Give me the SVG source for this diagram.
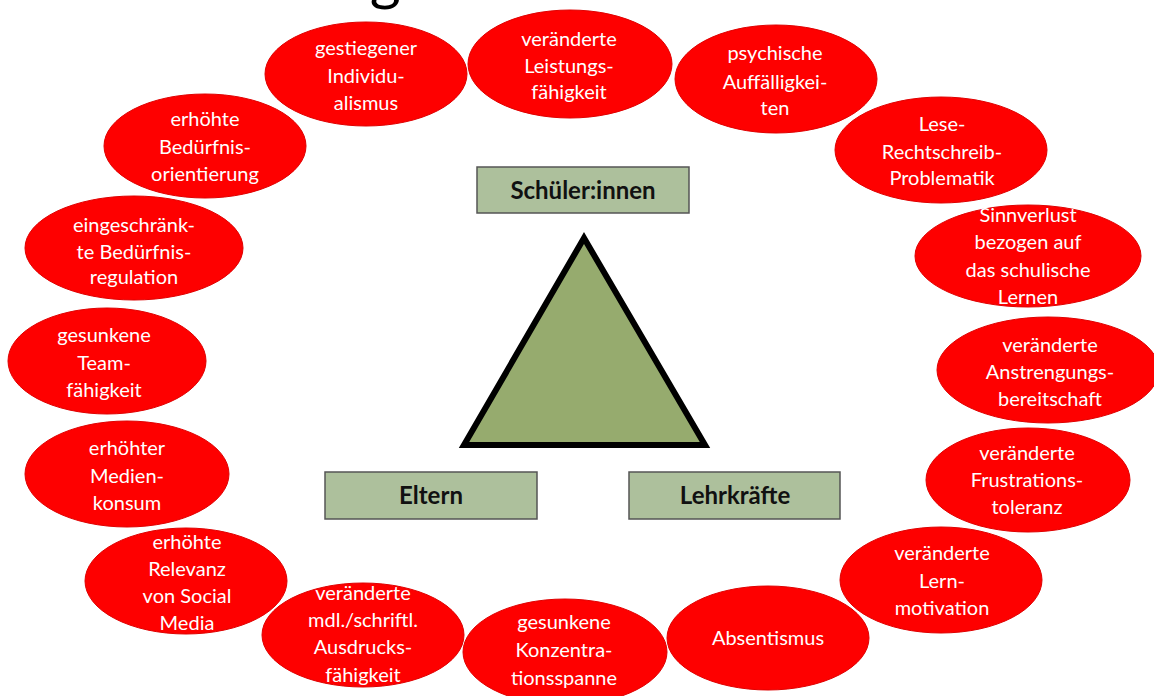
<svg xmlns="http://www.w3.org/2000/svg" width="1154" height="696" viewBox="0 0 1154 696">
<style>
.e{fill:#fe0000;stroke:#e00000;stroke-width:1}
.t{font-family:Lato,"Liberation Sans",sans-serif;font-size:20px;fill:#ffffff;text-anchor:middle}
.b{fill:#adc09c;stroke:#555555;stroke-width:1.5}
.bt{font-family:Lato,"Liberation Sans",sans-serif;font-size:24px;font-weight:bold;fill:#111111;text-anchor:middle}
</style>
<rect width="1154" height="696" fill="#ffffff"/>
<text x="65" y="-1" font-family="Lato,'Liberation Sans',sans-serif" font-size="58" fill="#000" textLength="400" lengthAdjust="spacingAndGlyphs">Veränderungen</text>
<g id="n-sinnverlust"><ellipse class="e" cx="1028" cy="256" rx="113" ry="51"/><text class="t"><tspan x="1028" y="222">Sinnverlust</tspan><tspan x="1028" y="249">bezogen auf</tspan><tspan x="1028" y="277">das schulische</tspan><tspan x="1028" y="304">Lernen</tspan></text></g>
<g id="n-gestiegener"><ellipse class="e" cx="366" cy="74" rx="101" ry="52"/><text class="t"><tspan x="366" y="55">gestiegener</tspan><tspan x="366" y="83">Individu-</tspan><tspan x="366" y="110">alismus</tspan></text></g>
<g id="n-leistung"><ellipse class="e" cx="570" cy="64" rx="102" ry="54"/><text class="t"><tspan x="569" y="46">veränderte</tspan><tspan x="569" y="73">Leistungs-</tspan><tspan x="569" y="99">fähigkeit</tspan></text></g>
<g id="n-psychische"><ellipse class="e" cx="776" cy="79" rx="101" ry="54"/><text class="t"><tspan x="775" y="60">psychische</tspan><tspan x="775" y="89">Auffälligkei-</tspan><tspan x="775" y="115">ten</tspan></text></g>
<g id="n-lese"><ellipse class="e" cx="941" cy="150" rx="106" ry="53"/><text class="t"><tspan x="942" y="131">Lese-</tspan><tspan x="942" y="159">Rechtschreib-</tspan><tspan x="942" y="185">Problematik</tspan></text></g>
<g id="n-anstrengung"><ellipse class="e" cx="1048" cy="370" rx="111" ry="53"/><text class="t"><tspan x="1050" y="352">veränderte</tspan><tspan x="1050" y="379">Anstrengungs-</tspan><tspan x="1050" y="406">bereitschaft</tspan></text></g>
<g id="n-frustration"><ellipse class="e" cx="1028" cy="480" rx="102" ry="52"/><text class="t"><tspan x="1027" y="460">veränderte</tspan><tspan x="1027" y="487">Frustrations-</tspan><tspan x="1027" y="514">toleranz</tspan></text></g>
<g id="n-lernmotivation"><ellipse class="e" cx="941" cy="580" rx="101" ry="53"/><text class="t"><tspan x="942" y="560">veränderte</tspan><tspan x="942" y="588">Lern-</tspan><tspan x="942" y="615">motivation</tspan></text></g>
<g id="n-absentismus"><ellipse class="e" cx="768" cy="638" rx="101" ry="52"/><text class="t"><tspan x="768" y="645">Absentismus</tspan></text></g>
<g id="n-konzentration"><ellipse class="e" cx="565" cy="652" rx="102" ry="53"/><text class="t"><tspan x="564" y="629">gesunkene</tspan><tspan x="564" y="657">Konzentra-</tspan><tspan x="564" y="685">tionsspanne</tspan></text></g>
<g id="n-ausdruck"><ellipse class="e" cx="363" cy="635" rx="101" ry="52"/><text class="t"><tspan x="363" y="600">veränderte</tspan><tspan x="363" y="627">mdl./schriftl.</tspan><tspan x="363" y="654">Ausdrucks-</tspan><tspan x="363" y="682">fähigkeit</tspan></text></g>
<g id="n-socialmedia"><ellipse class="e" cx="186" cy="581" rx="101" ry="53"/><text class="t"><tspan x="187" y="549">erhöhte</tspan><tspan x="187" y="576">Relevanz</tspan><tspan x="187" y="603">von Social</tspan><tspan x="187" y="630">Media</tspan></text></g>
<g id="n-medien"><ellipse class="e" cx="127" cy="474" rx="102" ry="53"/><text class="t"><tspan x="127" y="455">erhöhter</tspan><tspan x="127" y="483">Medien-</tspan><tspan x="127" y="510">konsum</tspan></text></g>
<g id="n-team"><ellipse class="e" cx="107" cy="361" rx="99" ry="53"/><text class="t"><tspan x="104" y="342">gesunkene</tspan><tspan x="104" y="370">Team-</tspan><tspan x="104" y="397">fähigkeit</tspan></text></g>
<g id="n-regulation"><ellipse class="e" cx="134" cy="248" rx="109" ry="52"/><text class="t"><tspan x="134" y="232">eingeschränk-</tspan><tspan x="134" y="259">te Bedürfnis-</tspan><tspan x="134" y="284">regulation</tspan></text></g>
<g id="n-orientierung"><ellipse class="e" cx="205" cy="146" rx="101" ry="52"/><text class="t"><tspan x="205" y="126">erhöhte</tspan><tspan x="205" y="154">Bedürfnis-</tspan><tspan x="205" y="181">orientierung</tspan></text></g>
<g id="n-triangle"><polygon points="584,238 464,445 705,445" fill="#96ab6e" stroke="#000000" stroke-width="6" stroke-linejoin="miter"/></g>
<g id="n-schueler"><rect class="b" x="477" y="167" width="212" height="46"/><text class="bt" x="583" y="199">Schüler:innen</text></g>
<g id="n-eltern"><rect class="b" x="325" y="472" width="212" height="47"/><text class="bt" x="431" y="504">Eltern</text></g>
<g id="n-lehrkraefte"><rect class="b" x="629" y="472" width="211" height="47"/><text class="bt" x="735" y="504">Lehrkräfte</text></g>
<g id="connectors"></g>
</svg>
